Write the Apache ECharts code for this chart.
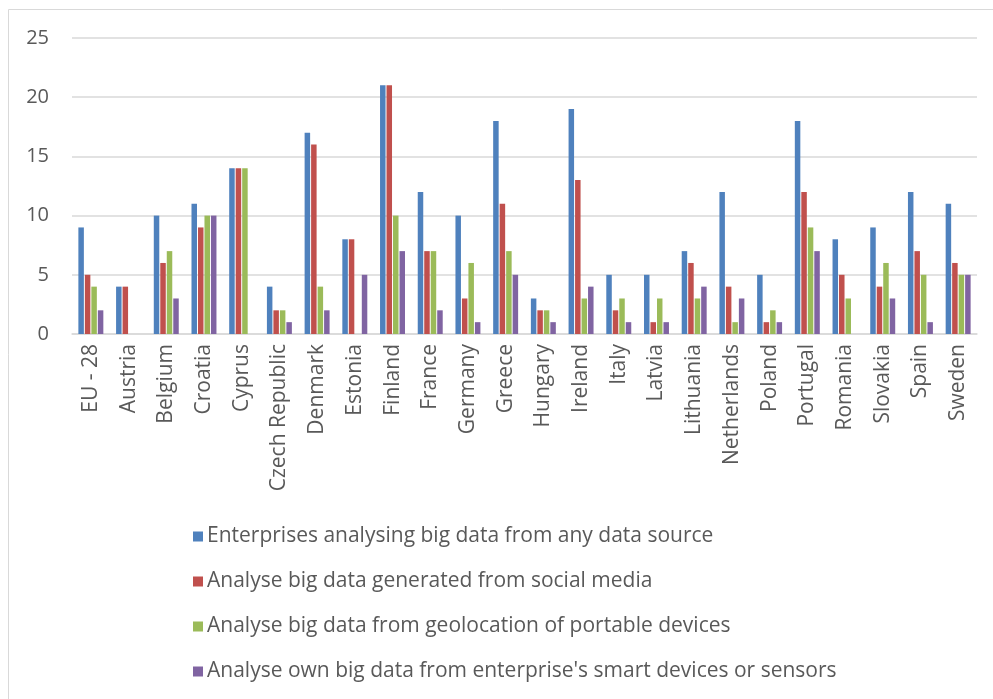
<!DOCTYPE html>
<html>
<head>
<meta charset="utf-8">
<script src="https://cdn.jsdelivr.net/npm/echarts@6/dist/echarts.min.js"></script>
<style>
  html, body { margin: 0; padding: 0; background: #fff; }
  #chart { width: 993px; height: 699px; }
</style>
</head>
<body>
<div id="chart"></div>
<script>
// Countries on the category axis
const countries = ['EU - 28', 'Austria', 'Belgium', 'Croatia', 'Cyprus', 'Czech Republic', 'Denmark',
  'Estonia', 'Finland', 'France', 'Germany', 'Greece', 'Hungary', 'Ireland', 'Italy', 'Latvia',
  'Lithuania', 'Netherlands', 'Poland', 'Portugal', 'Romania', 'Slovakia', 'Spain', 'Sweden'];

// Share of enterprises (%) per country
const anySource   = [9, 4, 10, 11, 14, 4, 17, 8, 21, 12, 10, 18, 3, 19, 5, 5, 7, 12, 5, 18, 8, 9, 12, 11];
const socialMedia = [5, 4, 6, 9, 14, 2, 16, 8, 21, 7, 3, 11, 2, 13, 2, 1, 6, 4, 1, 12, 5, 4, 7, 6];
const geolocation = [4, 0, 7, 10, 14, 2, 4, 0, 10, 7, 6, 7, 2, 3, 3, 3, 3, 1, 2, 9, 3, 6, 5, 5];
const ownSensors  = [2, 0, 3, 10, 0, 1, 2, 5, 7, 2, 1, 5, 1, 4, 1, 1, 4, 3, 1, 7, 0, 3, 1, 5];

const seriesNames = [
  'Enterprises analysing big data from any data source',
  'Analyse big data generated from social media',
  'Analyse big data from geolocation of portable devices',
  "Analyse own big data from enterprise's smart devices or sensors"
];
const seriesData = [anySource, socialMedia, geolocation, ownSensors];
const colors = ['#4f81bd', '#c0504d', '#9bbb59', '#8064a2'];

const font = '"Open Sans", "Noto Sans", sans-serif';
const chart = echarts.init(document.getElementById('chart'), null, { renderer: 'canvas' });

chart.setOption({
  animation: false,
  color: colors,
  textStyle: { fontFamily: font },
  graphic: [{
    type: 'rect',
    shape: { x: 8.5, y: 9.5, width: 1100, height: 800 },
    style: { fill: 'none', stroke: '#d9d9d9', lineWidth: 1 },
    silent: true
  }],
  grid: { left: 72, right: 16, top: 38, bottom: 365, containLabel: false },
  legend: {
    orient: 'vertical',
    left: 193,
    top: 526,
    padding: 0,
    itemWidth: 10,
    itemHeight: 10,
    itemGap: 24,
    icon: 'rect',
    textStyle: { fontSize: 21, color: '#595959', fontFamily: font, padding: [0, 0, 0, -1] },
    data: seriesNames
  },
  xAxis: {
    type: 'category',
    data: countries,
    axisLine: { lineStyle: { color: '#d9d9d9', width: 1.5 } },
    axisTick: { show: false },
    axisLabel: { rotate: 90, fontSize: 21, color: '#595959', margin: 10, interval: 0, fontFamily: font }
  },
  yAxis: {
    type: 'value',
    min: 0,
    max: 25,
    interval: 5,
    axisLine: { show: false },
    axisTick: { show: false },
    splitLine: { lineStyle: { color: '#d9d9d9', width: 1.5 } },
    axisLabel: { fontSize: 20, color: '#595959', margin: 23, fontFamily: font }
  },
  series: seriesData.map((d, i) => ({
    name: seriesNames[i],
    type: 'bar',
    data: d,
    barWidth: 5.5,
    barGap: '18%',
    itemStyle: { color: colors[i] }
  }))
});
</script>
</body>
</html>
